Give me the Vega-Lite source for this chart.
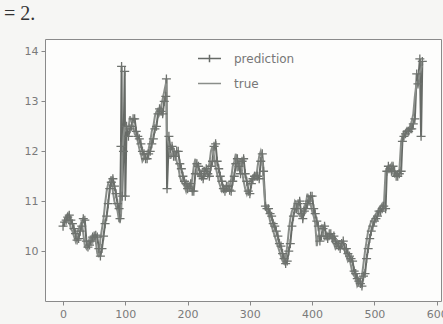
{
"$schema": "https://vega.github.io/schema/vega-lite/v6.json",
"width": 396, "height": 262,
"autosize": {"type": "none"},
"padding": {"left": 45, "top": 39, "right": 2, "bottom": 23},
"background": "#f6f6f4",
"title": {"text": "= 2.", "anchor": "start", "dx": -20, "offset": 15, "font": "Liberation Serif", "fontSize": 20, "fontWeight": "normal", "color": "#333333"},
"data": {"values": [
{"x":0,"true":10.55,"prediction":10.5},{"x":5,"true":10.7,"prediction":10.62},{"x":10,"true":10.6,"prediction":10.72},{"x":15,"true":10.4,"prediction":10.55},{"x":20,"true":10.2,"prediction":10.35},{"x":25,"true":10.45,"prediction":10.25},{"x":30,"true":10.6,"prediction":10.5},{"x":35,"true":10.1,"prediction":10.62},{"x":40,"true":10.15,"prediction":10.08},{"x":45,"true":10.25,"prediction":10.2},{"x":50,"true":10.3,"prediction":10.3},{"x":55,"true":9.95,"prediction":10.28},{"x":60,"true":10.25,"prediction":9.9},{"x":65,"true":10.65,"prediction":10.3},{"x":70,"true":11.2,"prediction":10.7},{"x":75,"true":11.4,"prediction":11.25},{"x":80,"true":11.2,"prediction":11.45},{"x":85,"true":10.9,"prediction":11.15},{"x":90,"true":10.6,"prediction":10.85},
{"x":93,"true":10.7,"prediction":12.1},{"x":94,"true":11.0,"prediction":13.7},{"x":95,"true":11.9,"prediction":11.1},{"x":97,"true":12.3,"prediction":12.0},{"x":99,"true":12.5,"prediction":13.6},{"x":100,"true":12.4,"prediction":11.1},{"x":102,"true":12.5,"prediction":12.5},{"x":105,"true":12.45,"prediction":12.3},{"x":110,"true":12.6,"prediction":12.5},{"x":115,"true":12.35,"prediction":12.65},{"x":120,"true":12.2,"prediction":12.3},{"x":125,"true":11.95,"prediction":12.15},{"x":130,"true":11.85,"prediction":11.95},{"x":135,"true":11.95,"prediction":11.85},{"x":140,"true":12.2,"prediction":12.0},{"x":145,"true":12.5,"prediction":12.25},{"x":150,"true":12.8,"prediction":12.5},{"x":155,"true":12.75,"prediction":12.85},{"x":160,"true":13.05,"prediction":12.75},{"x":165,"true":13.35,"prediction":13.1},{"x":166,"true":13.45,"prediction":13.45},{"x":167,"true":12.3,"prediction":11.25},{"x":170,"true":12.1,"prediction":12.3},{"x":175,"true":11.95,"prediction":12.1},{"x":180,"true":11.95,"prediction":11.9},{"x":185,"true":11.7,"prediction":12.0},{"x":190,"true":11.4,"prediction":11.65},{"x":195,"true":11.3,"prediction":11.4},{"x":200,"true":11.35,"prediction":11.25},{"x":205,"true":11.2,"prediction":11.35},{"x":210,"true":11.7,"prediction":11.2},{"x":215,"true":11.6,"prediction":11.75},{"x":220,"true":11.5,"prediction":11.55},{"x":225,"true":11.65,"prediction":11.45},{"x":230,"true":11.55,"prediction":11.65},{"x":235,"true":11.75,"prediction":11.5},{"x":240,"true":12.1,"prediction":11.8},{"x":245,"true":11.7,"prediction":12.15},{"x":250,"true":11.4,"prediction":11.65},{"x":255,"true":11.2,"prediction":11.4},{"x":260,"true":11.3,"prediction":11.2},{"x":265,"true":11.25,"prediction":11.3},{"x":270,"true":11.45,"prediction":11.2},{"x":275,"true":11.8,"prediction":11.5},{"x":280,"true":11.6,"prediction":11.85},{"x":285,"true":11.85,"prediction":11.55},{"x":290,"true":11.4,"prediction":11.85},{"x":295,"true":11.15,"prediction":11.4},{"x":300,"true":11.4,"prediction":11.15},{"x":305,"true":11.5,"prediction":11.45},{"x":310,"true":11.45,"prediction":11.5},{"x":315,"true":11.9,"prediction":11.45},{"x":320,"true":11.85,"prediction":11.95},{"x":322,"true":11.4,"prediction":11.6},{"x":325,"true":10.85,"prediction":10.9},{"x":330,"true":10.75,"prediction":10.85},{"x":335,"true":10.5,"prediction":10.7},{"x":340,"true":10.3,"prediction":10.5},{"x":345,"true":10.1,"prediction":10.3},{"x":350,"true":9.9,"prediction":10.1},{"x":355,"true":9.75,"prediction":9.85},{"x":360,"true":10.1,"prediction":9.8},{"x":365,"true":10.65,"prediction":10.15},{"x":370,"true":10.85,"prediction":10.7},{"x":375,"true":10.95,"prediction":10.85},{"x":380,"true":10.7,"prediction":11.0},{"x":385,"true":10.8,"prediction":10.65},{"x":390,"true":10.95,"prediction":10.85},{"x":395,"true":11.05,"prediction":11.0},{"x":400,"true":10.8,"prediction":11.1},{"x":405,"true":10.55,"prediction":10.75},{"x":410,"true":10.3,"prediction":10.5},{"x":415,"true":10.5,"prediction":10.3},{"x":420,"true":10.25,"prediction":10.5},{"x":425,"true":10.35,"prediction":10.25},{"x":430,"true":10.3,"prediction":10.35},{"x":435,"true":10.15,"prediction":10.3},{"x":440,"true":10.1,"prediction":10.15},{"x":445,"true":10.2,"prediction":10.05},{"x":450,"true":10.05,"prediction":10.2},{"x":455,"true":9.9,"prediction":10.05},{"x":460,"true":9.85,"prediction":9.9},{"x":465,"true":9.55,"prediction":9.8},{"x":470,"true":9.45,"prediction":9.55},{"x":475,"true":9.35,"prediction":9.4},{"x":480,"true":9.5,"prediction":9.3},{"x":485,"true":10.0,"prediction":9.55},{"x":490,"true":10.4,"prediction":10.05},{"x":495,"true":10.6,"prediction":10.4},{"x":500,"true":10.7,"prediction":10.6},{"x":505,"true":10.8,"prediction":10.7},{"x":510,"true":10.9,"prediction":10.8},{"x":515,"true":10.85,"prediction":10.9},{"x":518,"true":11.6,"prediction":10.85},{"x":520,"true":11.65,"prediction":11.6},{"x":525,"true":11.7,"prediction":11.65},{"x":530,"true":11.55,"prediction":11.7},{"x":535,"true":11.55,"prediction":11.5},{"x":540,"true":11.6,"prediction":11.55},{"x":543,"true":12.2,"prediction":11.6},{"x":545,"true":12.3,"prediction":12.2},{"x":550,"true":12.4,"prediction":12.35},{"x":555,"true":12.45,"prediction":12.4},{"x":560,"true":12.6,"prediction":12.45},{"x":565,"true":13.1,"prediction":12.65},{"x":568,"true":13.4,"prediction":13.55},{"x":570,"true":13.3,"prediction":13.35},{"x":573,"true":13.6,"prediction":13.85},{"x":575,"true":13.65,"prediction":12.3},{"x":577,"true":13.75,"prediction":13.8},
{"x":2.5,"true":10.62,"prediction":10.58},{"x":7.5,"true":10.75,"prediction":10.68},{"x":12.5,"true":10.45,"prediction":10.62},{"x":17.5,"true":10.3,"prediction":10.45},{"x":22.5,"true":10.35,"prediction":10.22},{"x":27.5,"true":10.5,"prediction":10.4},{"x":32.5,"true":10.35,"prediction":10.65},{"x":37.5,"true":10.05,"prediction":10.2},{"x":42.5,"true":10.25,"prediction":10.12},{"x":47.5,"true":10.18,"prediction":10.28},{"x":52.5,"true":10.2,"prediction":10.32},{"x":57.5,"true":9.88,"prediction":10.05},{"x":62.5,"true":10.45,"prediction":10.05},{"x":67.5,"true":10.95,"prediction":10.55},{"x":72.5,"true":11.35,"prediction":10.95},{"x":77.5,"true":11.5,"prediction":11.38},{"x":82.5,"true":11.0,"prediction":11.3},{"x":87.5,"true":10.8,"prediction":10.95},{"x":91.5,"true":10.6,"prediction":10.65},
{"x":107.5,"true":12.7,"prediction":12.45},{"x":112.5,"true":12.5,"prediction":12.65},{"x":117.5,"true":12.3,"prediction":12.4},{"x":122.5,"true":12.05,"prediction":12.25},{"x":127.5,"true":11.8,"prediction":12.0},{"x":132.5,"true":11.95,"prediction":11.85},{"x":137.5,"true":12.05,"prediction":11.95},{"x":142.5,"true":12.4,"prediction":12.15},{"x":147.5,"true":12.7,"prediction":12.45},{"x":152.5,"true":12.85,"prediction":12.75},{"x":157.5,"true":12.9,"prediction":12.8},{"x":162.5,"true":13.2,"prediction":13.0},
{"x":172.5,"true":11.85,"prediction":12.05},{"x":177.5,"true":12.05,"prediction":11.9},{"x":182.5,"true":11.8,"prediction":12.0},{"x":187.5,"true":11.5,"prediction":11.75},{"x":192.5,"true":11.35,"prediction":11.5},{"x":197.5,"true":11.2,"prediction":11.35},{"x":202.5,"true":11.3,"prediction":11.3},{"x":207.5,"true":11.45,"prediction":11.2},{"x":212.5,"true":11.85,"prediction":11.55},{"x":217.5,"true":11.5,"prediction":11.7},{"x":222.5,"true":11.6,"prediction":11.5},{"x":227.5,"true":11.5,"prediction":11.6},{"x":232.5,"true":11.65,"prediction":11.55},{"x":237.5,"true":12.0,"prediction":11.7},{"x":242.5,"true":11.9,"prediction":12.1},{"x":247.5,"true":11.55,"prediction":11.8},{"x":252.5,"true":11.3,"prediction":11.5},{"x":257.5,"true":11.25,"prediction":11.25},{"x":262.5,"true":11.2,"prediction":11.3},{"x":267.5,"true":11.3,"prediction":11.22},{"x":272.5,"true":11.7,"prediction":11.4},{"x":277.5,"true":11.95,"prediction":11.75},{"x":282.5,"true":11.75,"prediction":11.7},{"x":287.5,"true":11.6,"prediction":11.8},{"x":292.5,"true":11.25,"prediction":11.55},{"x":297.5,"true":11.3,"prediction":11.2},{"x":302.5,"true":11.45,"prediction":11.35},{"x":307.5,"true":11.55,"prediction":11.5},{"x":312.5,"true":11.7,"prediction":11.5},{"x":317.5,"true":12.0,"prediction":11.8},
{"x":327.5,"true":10.8,"prediction":10.85},{"x":332.5,"true":10.6,"prediction":10.75},{"x":337.5,"true":10.4,"prediction":10.55},{"x":342.5,"true":10.2,"prediction":10.4},{"x":347.5,"true":10.0,"prediction":10.15},{"x":352.5,"true":9.8,"prediction":9.95},{"x":357.5,"true":9.85,"prediction":9.75},{"x":362.5,"true":10.4,"prediction":10.0},{"x":367.5,"true":10.8,"prediction":10.5},{"x":372.5,"true":11.0,"prediction":10.85},{"x":377.5,"true":10.8,"prediction":10.95},{"x":382.5,"true":10.7,"prediction":10.75},{"x":387.5,"true":10.9,"prediction":10.8},{"x":392.5,"true":11.15,"prediction":10.95},{"x":397.5,"true":10.95,"prediction":11.1},{"x":402.5,"true":10.7,"prediction":10.85},{"x":407.5,"true":10.1,"prediction":10.6},{"x":412.5,"true":10.45,"prediction":10.2},{"x":417.5,"true":10.35,"prediction":10.45},{"x":422.5,"true":10.3,"prediction":10.3},{"x":427.5,"true":10.25,"prediction":10.35},{"x":432.5,"true":10.3,"prediction":10.25},{"x":437.5,"true":10.05,"prediction":10.2},{"x":442.5,"true":10.2,"prediction":10.1},{"x":447.5,"true":10.1,"prediction":10.15},{"x":452.5,"true":10.0,"prediction":10.05},{"x":457.5,"true":9.8,"prediction":9.95},{"x":462.5,"true":9.7,"prediction":9.85},{"x":467.5,"true":9.5,"prediction":9.6},{"x":472.5,"true":9.3,"prediction":9.45},{"x":477.5,"true":9.45,"prediction":9.35},{"x":482.5,"true":9.75,"prediction":9.5},{"x":487.5,"true":10.2,"prediction":9.85},{"x":492.5,"true":10.5,"prediction":10.25},{"x":497.5,"true":10.65,"prediction":10.5},{"x":502.5,"true":10.75,"prediction":10.65},{"x":507.5,"true":10.85,"prediction":10.8},{"x":512.5,"true":10.95,"prediction":10.85},{"x":522.5,"true":11.6,"prediction":11.7},{"x":527.5,"true":11.75,"prediction":11.6},{"x":532.5,"true":11.5,"prediction":11.6},{"x":537.5,"true":11.6,"prediction":11.5},{"x":547.5,"true":12.4,"prediction":12.3},{"x":552.5,"true":12.45,"prediction":12.4},{"x":557.5,"true":12.5,"prediction":12.45},{"x":562.5,"true":12.75,"prediction":12.55}
]},
"transform": [{"fold": ["prediction", "true"], "as": ["series", "value"]}],
"encoding": {
  "x": {"field": "x", "type": "quantitative", "scale": {"domain": [-29, 607], "nice": false, "zero": false}, "axis": {"values": [0,100,200,300,400,500,600], "title": null}},
  "y": {"field": "value", "type": "quantitative", "scale": {"domain": [9.0, 14.25], "nice": false, "zero": false}, "axis": {"values": [10,11,12,13,14], "title": null}}
},
"layer": [
  {"mark": {"type": "line", "strokeWidth": 2},
   "encoding": {"color": {"field": "series", "type": "nominal", "scale": {"domain": ["prediction", "true"], "range": ["#666a66", "#8a8e8a"]},
     "legend": {"title": null, "orient": "none", "legendX": 152, "legendY": 7, "symbolType": "stroke", "symbolSize": 529, "symbolStrokeWidth": 1.5, "labelOffset": 12, "rowPadding": 5,
       "labelFont": "DejaVu Sans", "labelFontSize": 12, "labelColor": "#777777",
       "encode": {"symbols": {"update": {"shape": {"signal": "datum.value === 'prediction' ? 'M-1,0H1M0,-0.32V0.32' : 'stroke'"}}}}}}}},
  {"transform": [{"filter": "datum.series === 'prediction'"}],
   "mark": {"type": "point", "shape": "M-1,0H1M0,-1V1", "filled": false, "size": 81, "strokeWidth": 1.3, "color": "#6e726e", "opacity": 1}}
],
"config": {
  "view": {"stroke": "#8a8a8a", "fill": "#fdfdfc"},
  "axis": {"domain": false, "grid": false, "ticks": true, "tickColor": "#888888", "tickSize": 4, "labelColor": "#7a7a7a", "labelFont": "DejaVu Sans", "labelFontSize": 11, "labelPadding": 3}
}
}
